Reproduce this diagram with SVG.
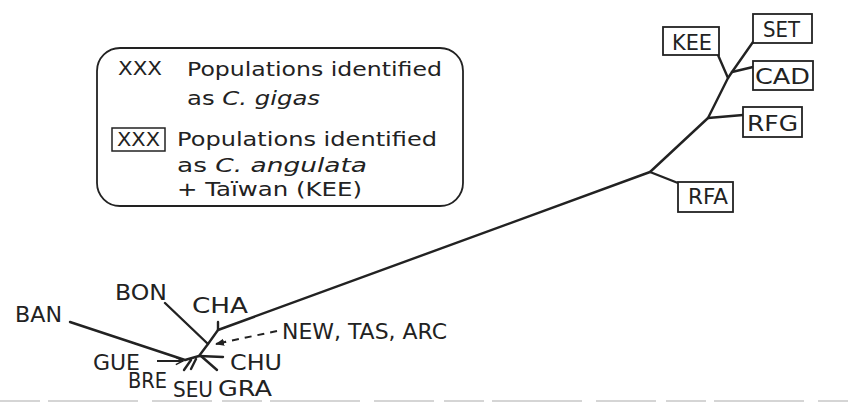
<svg xmlns="http://www.w3.org/2000/svg" width="848" height="403" viewBox="0 0 848 403">
<style>
.t{font-family:"DejaVu Sans","Liberation Sans",sans-serif;fill:#222;font-size:22px}
.lg{font-family:"DejaVu Sans","Liberation Sans",sans-serif;fill:#222;font-size:20px}
.br{fill:none;stroke:#222;stroke-width:2.4;stroke-linecap:round;stroke-linejoin:round}
.bx{fill:#fff;stroke:#222;stroke-width:1.8}
.dash{fill:none;stroke:#222;stroke-width:2;stroke-dasharray:7 6}
</style>
<defs>
<marker id="open" viewBox="0 0 10 10" refX="9" refY="5" markerWidth="9" markerHeight="9" markerUnits="userSpaceOnUse" orient="auto">
<path d="M1,1 L9,5 L1,9" fill="none" stroke="#222" stroke-width="1.6"/>
</marker>
<marker id="fill" viewBox="0 0 10 10" refX="9" refY="5" markerWidth="9" markerHeight="9" markerUnits="userSpaceOnUse" orient="auto">
<path d="M0,1 L10,5 L0,9 Z" fill="#222"/>
</marker>
</defs>
<rect width="848" height="403" fill="#fff"/>

<g id="legend">
<rect x="97" y="48" width="366" height="158" rx="23" fill="none" stroke="#222" stroke-width="1.8"/>
<text class="lg" x="118" y="75" font-size="17" textLength="44" lengthAdjust="spacingAndGlyphs">XXX</text>
<text class="lg" x="187" y="76" textLength="255" lengthAdjust="spacingAndGlyphs">Populations identified</text>
<text class="lg" x="187" y="105" textLength="133" lengthAdjust="spacingAndGlyphs">as <tspan font-style="italic">C. gigas</tspan></text>
<rect x="112" y="128" width="53" height="23" fill="none" stroke="#222" stroke-width="1.5"/>
<text class="lg" x="117" y="146" font-size="17" textLength="43" lengthAdjust="spacingAndGlyphs">XXX</text>
<text class="lg" x="177" y="146" textLength="260" lengthAdjust="spacingAndGlyphs">Populations identified</text>
<text class="lg" x="177" y="172" textLength="190" lengthAdjust="spacingAndGlyphs">as <tspan font-style="italic">C. angulata</tspan></text>
<text class="lg" x="177" y="196" textLength="185" lengthAdjust="spacingAndGlyphs">+ Taïwan (KEE)</text>
</g>

<g id="connectors">
<polyline class="br" points="165,303 208,344 218,330 650,172 708,118 728,78 732,72 753,42"/>
<line class="br" x1="218" y1="330" x2="218" y2="322"/>
<line class="br" x1="650" y1="172" x2="678" y2="183"/>
<line class="br" x1="708" y1="118" x2="743" y2="115"/>
<line class="br" x1="728" y1="78" x2="718" y2="55"/>
<line class="br" x1="732" y1="72" x2="753" y2="67"/>
<polyline class="br" points="208,344 199,356 185,360 70,322"/>
<line class="br" x1="199" y1="356" x2="223" y2="357"/>
<line class="br" x1="201" y1="356" x2="217" y2="370"/>
<line class="br" x1="191" y1="360" x2="184" y2="370"/>
<line class="br" x1="196" y1="359" x2="191" y2="369"/>
<line x1="157" y1="361" x2="183" y2="361" stroke="#222" stroke-width="2" marker-end="url(#open)"/>
<line class="dash" x1="277" y1="331" x2="225" y2="342"/>
<line x1="226" y1="341.8" x2="216" y2="344" stroke="#222" stroke-width="2" marker-end="url(#fill)"/>
</g>

<g id="n-BAN"><text class="t" x="15" y="322" textLength="47" lengthAdjust="spacingAndGlyphs">BAN</text></g>
<g id="n-BON"><text class="t" x="115" y="300" textLength="52" lengthAdjust="spacingAndGlyphs">BON</text></g>
<g id="n-CHA"><text class="t" x="192" y="313" textLength="56" lengthAdjust="spacingAndGlyphs">CHA</text></g>
<g id="n-NEW"><text class="t" x="282" y="339" textLength="165" lengthAdjust="spacingAndGlyphs">NEW, TAS, ARC</text></g>
<g id="n-CHU"><text class="t" x="230" y="370" textLength="52" lengthAdjust="spacingAndGlyphs">CHU</text></g>
<g id="n-GUE"><text class="t" x="93" y="370" textLength="47" lengthAdjust="spacingAndGlyphs">GUE</text></g>
<g id="n-BRE"><text class="t" x="128" y="388" textLength="39" lengthAdjust="spacingAndGlyphs">BRE</text></g>
<g id="n-SEU"><text class="t" x="173" y="397" textLength="40" lengthAdjust="spacingAndGlyphs">SEU</text></g>
<g id="n-GRA"><text class="t" x="218" y="396" textLength="54" lengthAdjust="spacingAndGlyphs">GRA</text></g>

<g id="n-KEE"><rect class="bx" x="663" y="27" width="56" height="28"/><text class="t" x="672" y="50" font-size="21" textLength="40" lengthAdjust="spacingAndGlyphs">KEE</text></g>
<g id="n-SET"><rect class="bx" x="753" y="14" width="59" height="29"/><text class="t" x="763" y="37" font-size="21" textLength="37" lengthAdjust="spacingAndGlyphs">SET</text></g>
<g id="n-CAD"><rect class="bx" x="753" y="61" width="60" height="29"/><text class="t" x="755" y="84" font-size="21" textLength="55" lengthAdjust="spacingAndGlyphs">CAD</text></g>
<g id="n-RFG"><rect class="bx" x="743" y="107" width="59" height="30"/><text class="t" x="747" y="131" font-size="21" textLength="51" lengthAdjust="spacingAndGlyphs">RFG</text></g>
<g id="n-RFA"><rect class="bx" x="678" y="182" width="55" height="30"/><text class="t" x="688" y="204" font-size="21" textLength="40" lengthAdjust="spacingAndGlyphs">RFA</text></g>

<line x1="0" y1="401" x2="848" y2="401" stroke="#c8c8c8" stroke-width="1.5" stroke-dasharray="40 8 90 14 60 10"/>
</svg>
